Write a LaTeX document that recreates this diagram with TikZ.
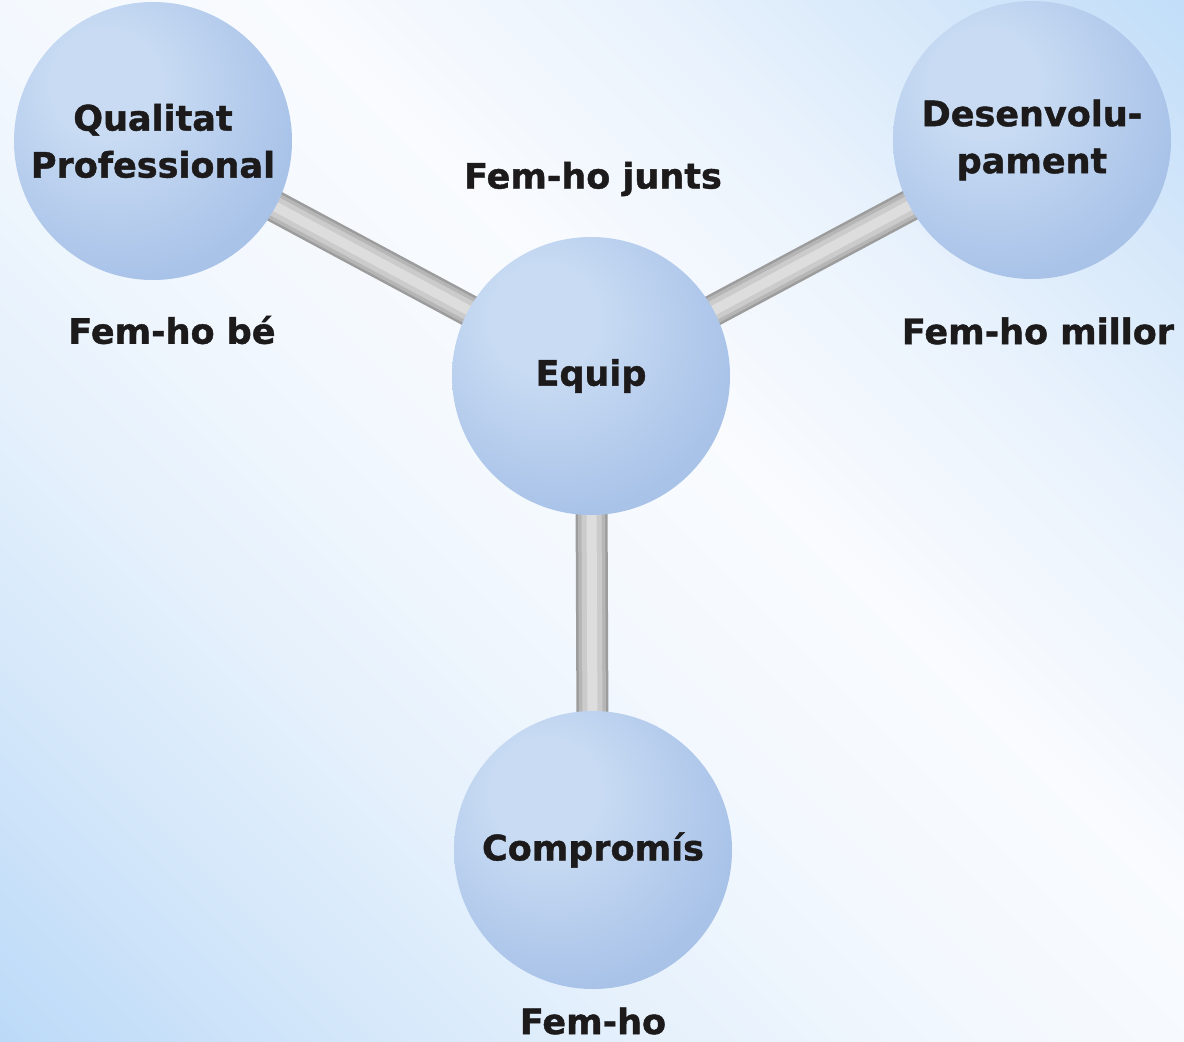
\documentclass[tikz,border=0pt]{standalone}
\usepackage{fontspec}
\setmainfont{DejaVu Sans}
\newfontfamily\heavy{DejaVu Sans Bold}[FakeBold=1.2]
\definecolor{bga}{HTML}{BCDAF8}
\definecolor{bgb}{HTML}{D2E6FA}
\definecolor{bgc}{HTML}{E6F1FC}
\definecolor{bgd}{HTML}{F3F8FE}
\definecolor{bge}{HTML}{F9FBFE}
\definecolor{bgf}{HTML}{EAF3FD}
\definecolor{bgg}{HTML}{D6E8FA}
\definecolor{bgh}{HTML}{C2DEF9}
\definecolor{sphhi}{HTML}{C8DBF3}
\definecolor{sphmid}{HTML}{A8C2E8}
\definecolor{sphdark}{HTML}{93A9CB}
\definecolor{txt}{HTML}{1C1A1A}
\definecolor{roda}{HTML}{9C9C9C}
\definecolor{rodb}{HTML}{B6B6B6}
\definecolor{rodc}{HTML}{CBCBCB}
\definecolor{rodd}{HTML}{DDDDDD}
\pgfdeclareverticalshading{bgsh}{100bp}{color(0bp)=(bga); color(14.6bp)=(bga); color(25bp)=(bgb); color(35.8bp)=(bgc); color(46.4bp)=(bgd); color(57bp)=(bge); color(67.6bp)=(bgf); color(76.8bp)=(bgg); color(85.4bp)=(bgh); color(100bp)=(bgh)}
\pgfdeclareradialshading{sphere}{\pgfpoint{-10bp}{12bp}}{color(0bp)=(sphhi); color(10bp)=(sphhi); color(32bp)=(sphmid); color(54bp)=(sphmid); color(70bp)=(sphdark)}
\pgfdeclarelayer{bg}
\pgfdeclarelayer{rods}
\pgfsetlayers{bg,rods,main}
\begin{document}
\begin{tikzpicture}[x=1pt,y=-1pt,
  ball/.style={circle, minimum size=278pt, inner sep=0pt, shading=sphere, align=center,
    text=txt, font=\fontsize{35}{47}\selectfont\heavy},
  lbl/.style={text=txt, inner sep=0pt, font=\fontsize{35}{47}\selectfont\heavy},
  rod/.style={line width=32pt, draw=roda,
    postaction={draw=rodb, line width=27pt},
    postaction={draw=rodc, line width=20pt},
    postaction={draw=rodd, line width=10pt}}]
\useasboundingbox (0,0) rectangle (1184,1042);
\begin{pgfonlayer}{bg}
  \shade[shading=bgsh, shading angle=-45] (0,0) rectangle (1184,1042);
\end{pgfonlayer}
\node[ball] (qp) at (153,141) {Qualitat\\Professional};
\node[ball] (des) at (1032,140) {Desenvolu-\\pament};
\node[ball] (eq) at (591,376) {Equip};
\node[ball] (com) at (593,850) {Compromís};
\node[lbl] (l1) at (593,179) {Fem-ho junts};
\node[lbl] (l2) at (172,330) {Fem-ho bé};
\node[lbl] (l3) at (1038,331) {Fem-ho millor};
\node[lbl] (l4) at (593,1021) {Fem-ho};
\begin{pgfonlayer}{rods}
  \draw[rod] (qp.center) -- (eq.center);
  \draw[rod] (des.center) -- (eq.center);
  \draw[rod] (eq.center) -- (com.center);
\end{pgfonlayer}
\end{tikzpicture}
\end{document}
